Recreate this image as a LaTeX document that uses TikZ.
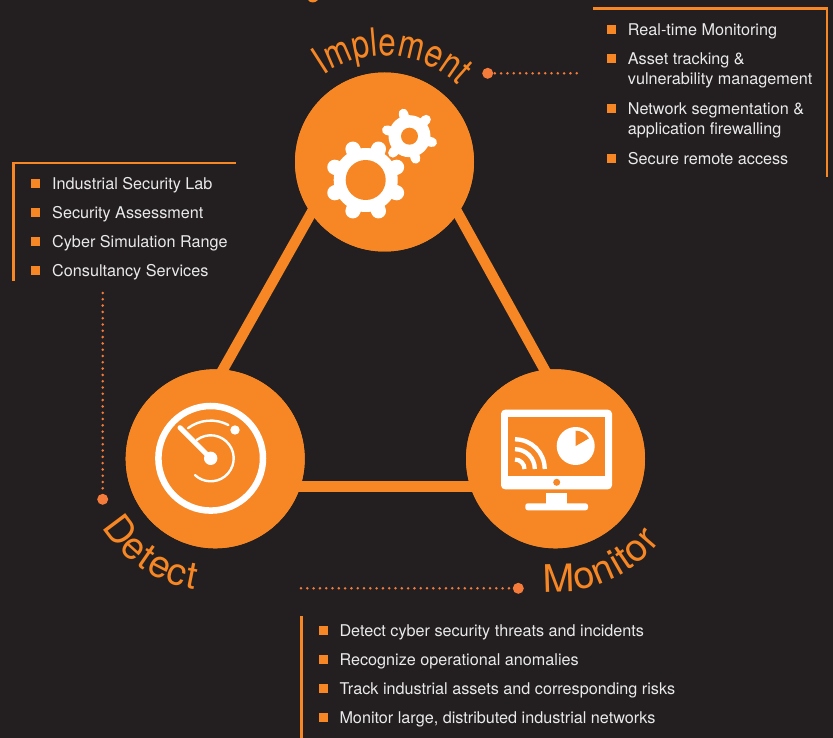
\documentclass[tikz,border=0pt]{standalone}
\usepackage{fontspec}
\setmainfont{TeX Gyre Heros}
\newfontfamily\implfont[FakeStretch=0.80]{TeX Gyre Heros}
\usetikzlibrary{decorations.text}
\definecolor{bgdark}{HTML}{231F20}
\definecolor{orangemain}{HTML}{F78724}
\definecolor{orangedot}{HTML}{F47B3A}
\definecolor{listtext}{HTML}{EAEAEA}
\tikzset{
  x=1pt,y=-1pt,
  hub/.style={circle,fill=orangemain,minimum size=179pt,inner sep=0pt},
  link/.style={draw=orangemain,line width=10.5pt,shorten <=-5pt,shorten >=-5pt},
  frameline/.style={draw=orangemain,line width=2.6pt},
  sq/.style={fill=orangemain,minimum size=9pt,inner sep=0pt},
  item/.style={anchor=base west,inner sep=0pt,text=listtext,font=\fontsize{16.2pt}{18pt}\selectfont},
  enddot/.style={circle,fill=orangedot,minimum size=11pt,inner sep=0pt},
  dotline/.style={draw=orangedot,line width=2.8pt,line cap=round,dash pattern=on 0pt off 6.3pt},
}
\begin{document}
\begin{tikzpicture}
\useasboundingbox[fill=bgdark] (0,0) rectangle (833,738);
% hubs
\node[hub] (top) at (384.5,162) {};
\node[hub] (left) at (215.2,458.8) {};
\node[hub] (right) at (555.5,458.8) {};
\draw[link] (top.215) -- (left.85);
\draw[link] (top.-35) -- (right.97);
\draw[link] (left.-18) -- (right.198);
\node[hub] at (top) {};
\node[hub] at (left) {};
\node[hub] at (right) {};
% curved labels
\path[decorate,decoration={text along path,text align=left,text color=orangemain,
  text={|\implfont\fontsize{39pt}{39pt}\selectfont|Implement}}]
  (384.5,162) ++(125:106pt) arc[start angle=125,end angle=20,radius=106pt];
\path[decorate,decoration={text along path,text align={fit to path},text color=orangemain,
  text={|\fontsize{38pt}{38pt}\selectfont|Detect}}]
  (215.2,458.8) ++(211:132pt) arc[start angle=211,end angle=261,radius=132pt];
\path[decorate,decoration={text along path,text align={fit to path},text color=orangemain,
  text={|\fontsize{38pt}{38pt}\selectfont|Monitor}}]
  (555.5,458.8) ++(265:133pt) arc[start angle=265,end angle=322,radius=133pt];
% title remnant
\path[fill=orangemain] (308,0) .. controls (310,3) and (315,3.5) .. (318,0) -- cycle;
% dotted connectors
\node[enddot] (implDot) at (487.7,73.3) {};
\coordinate (implEnd) at (576.7,73.3);
\draw[dotline] (implEnd) -- (implDot);
\node[enddot] (detDot) at (102.7,499.3) {};
\coordinate (detEnd) at (102.7,293);
\draw[dotline] (detEnd) -- (detDot);
\node[enddot] (monDot) at (518.3,588.3) {};
\coordinate (monEnd) at (301,588.3);
\draw[dotline] (monEnd) -- (monDot);
% frames
\draw[frameline] (13.5,281) -- (13.5,163) -- (235.5,163);
\draw[frameline] (593,8.3) -- (827,8.3) -- (827,177);
\draw[draw=orangemain,line width=3pt] (301.3,616) -- (301.3,738);
% lists
\foreach \yy/\tx in {184/Industrial Security Lab,213/Security Assessment,242/Cyber Simulation Range,271/Consultancy Services}{
  \node[sq] at (35.7,\yy) {};
  \node[item] at (52,\yy+5.5) {\tx};
}
\foreach \yy/\tx in {30/Real-time Monitoring,59/Asset tracking \&,109/Network segmentation \&,159/Secure remote access}{
  \node[sq] at (611.5,\yy) {};
  \node[item] at (627.7,\yy+5.5) {\tx};
}
\node[item] at (627.7,85) {vulnerability management};
\node[item] at (627.7,135) {application firewalling};
\foreach \yy/\tx in {630.7/Detect cyber security threats and incidents,659.7/Recognize operational anomalies,688.7/Track industrial assets and corresponding risks,717.7/{Monitor large, distributed industrial networks}}{
  \node[sq] at (323,\yy) {};
  \node[item] at (339.3,\yy+5.5) {\tx};
}
% gears
\coordinate (gs) at (409.5,136.2);
\coordinate (gb) at (365.7,180);
\fill[white] (gs) circle[radius=21pt];
\foreach \a in {-135,-75,-15,45,105,165}
  \draw[white,line width=9.5pt,line cap=round] (gs) ++(\a:17pt) -- ++(\a:6.5pt);
\foreach \a in {22.5,67.5,...,360}
  \draw[orangemain,line width=18pt,line cap=round] (gb) ++(\a:27pt) -- ++(\a:6.5pt);
\fill[white] (gb) circle[radius=32pt];
\foreach \a in {22.5,67.5,...,360}
  \draw[white,line width=15pt,line cap=round] (gb) ++(\a:27pt) -- ++(\a:6.5pt);
\fill[orangemain] (gb) circle[radius=20pt] (gs) circle[radius=8.5pt];
% gauge
\coordinate (gc) at (210.7,458.3);
\draw[white,line width=6.5pt] (gc) circle[radius=52.3pt];
\fill[white] (gc) circle[radius=6.7pt];
\draw[white,line width=5pt,line cap=round] (gc) -- (180,427.7);
\fill[white] (235,430) circle[radius=4.7pt];
\draw[white,line width=2.4pt,line cap=round] (gc) ++(62:37.7pt) arc[start angle=62,end angle=127,radius=37.7pt];
\draw[white,line width=2.4pt,line cap=round] (gc) ++(127:23pt) arc[start angle=127,end angle=-133,radius=23pt];
% monitor
\fill[white,rounded corners=4pt] (501,409.7) rectangle (612,489.3);
\fill[orangemain] (508,416.7) rectangle (605.3,475.7);
\fill[orangemain] (556.7,482.3) circle[radius=3.5pt];
\fill[white] (546,493) rectangle (567.3,504);
\fill[white,rounded corners=2.5pt] (525.3,510.3) -- (525.3,503.3) -- (588,503.3) -- (588,510.3) -- cycle;
\fill[white] (575.7,446) circle[radius=19pt];
\fill[orangemain] (575.7,446) -- ++(90:15.3pt) arc[start angle=90,end angle=30,radius=15.3pt] -- cycle;
\coordinate (wc) at (515,469);
\foreach \r in {29.7,19.8,9.5}
  \draw[white,line width=4.3pt] (wc) ++(0:\r pt) arc[start angle=0,end angle=90,radius=\r pt];
\end{tikzpicture}
\end{document}
